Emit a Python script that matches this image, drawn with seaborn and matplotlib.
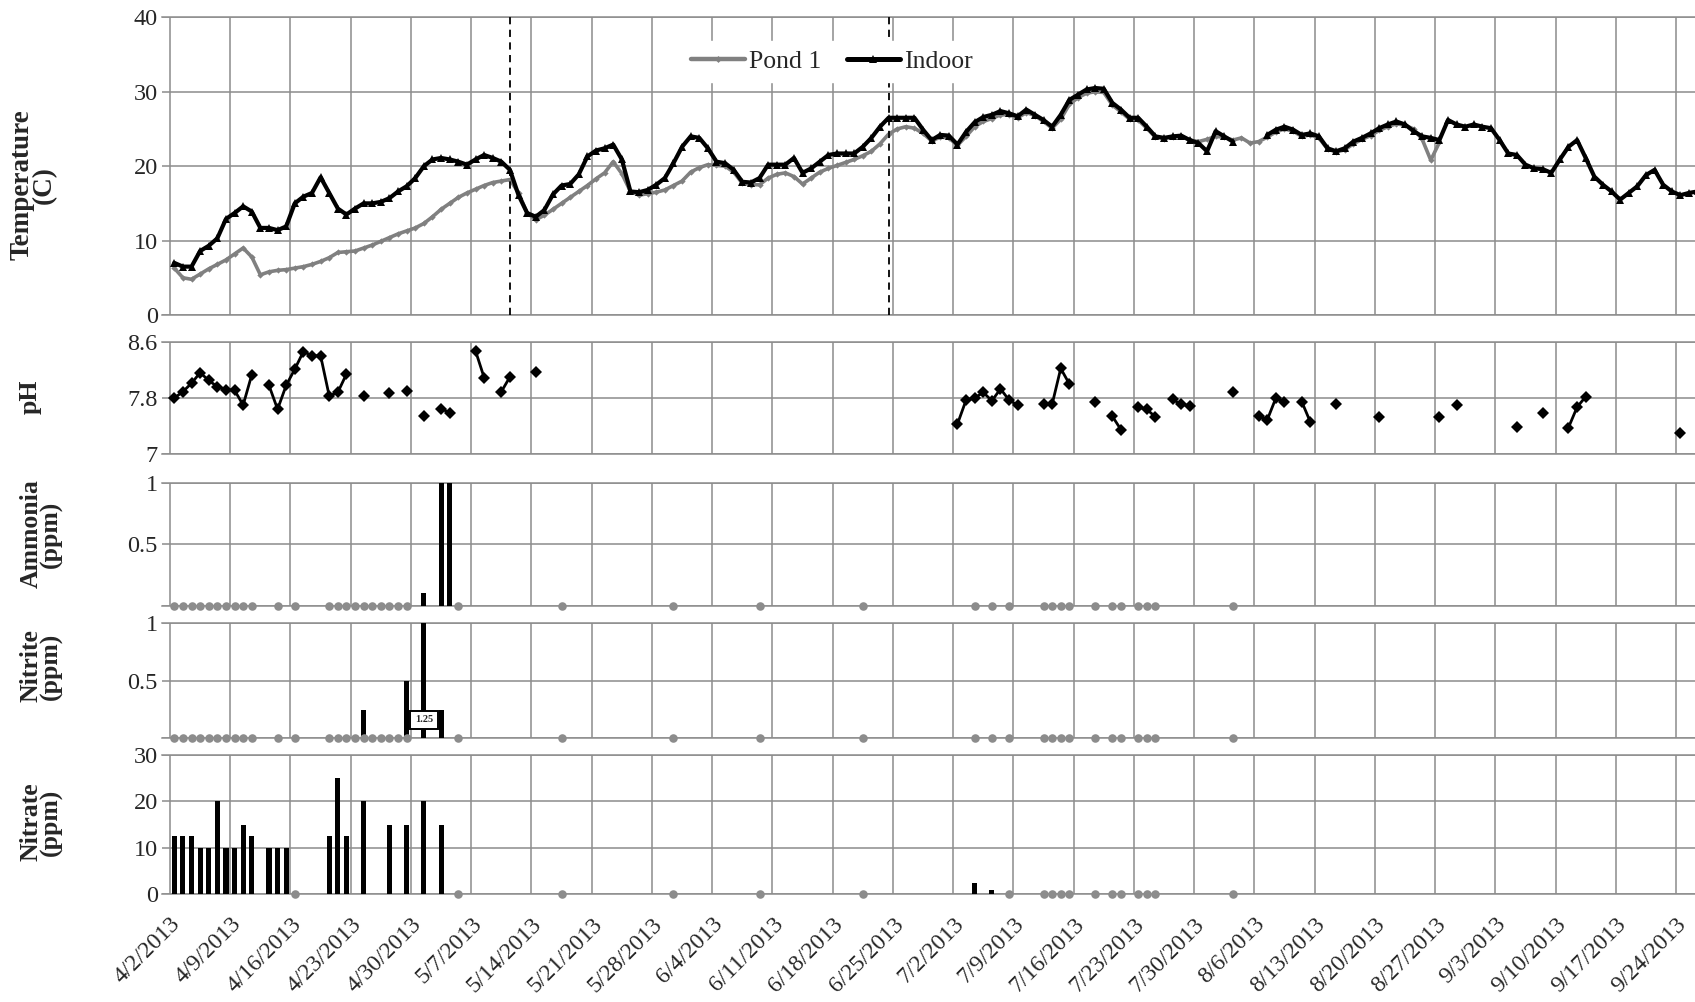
import numpy as np
import pandas as pd
import matplotlib
matplotlib.use("Agg")
import matplotlib.pyplot as plt
import matplotlib.dates as mdates
from matplotlib.lines import Line2D
from matplotlib.ticker import FixedLocator, FuncFormatter
import seaborn as sns

# ---------------------------------------------------------------- data
start_date = "2013-04-02"
last_tick_date = "2013-09-24"
event_days = [39, 83]                       # dashed markers (5/11, 6/24)

# daily water temperature (C), day 0 = 4/2/2013
indoor_temp = [
    7.0, 6.5, 6.5, 8.6, 9.3, 10.3, 12.9, 13.7, 14.6, 13.9,
    11.7, 11.7, 11.4, 11.9, 15.0, 15.9, 16.4, 18.5, 16.4, 14.3,
    13.5, 14.3, 15.0, 15.0, 15.2, 15.7, 16.6, 17.3, 18.4, 20.0,
    20.9, 21.1, 20.9, 20.6, 20.2, 20.9, 21.5, 21.1, 20.6, 19.5,
    16.1, 13.7, 13.2, 14.1, 16.2, 17.4, 17.6, 18.9, 21.3, 22.1,
    22.4, 22.9, 20.9, 16.6, 16.5, 16.8, 17.5, 18.4, 20.4, 22.6,
    24.0, 23.8, 22.4, 20.6, 20.4, 19.5, 17.9, 17.8, 18.4, 20.2,
    20.2, 20.2, 21.1, 19.1, 19.7, 20.6, 21.5, 21.7, 21.7, 21.7,
    22.6, 23.8, 25.3, 26.5, 26.5, 26.5, 26.5, 24.9, 23.5, 24.2,
    24.1, 22.9, 24.6, 25.9, 26.6, 26.9, 27.4, 27.1, 26.7, 27.6,
    26.9, 26.2, 25.3, 26.9, 28.9, 29.6, 30.3, 30.5, 30.4, 28.5,
    27.6, 26.5, 26.5, 25.3, 24.0, 23.8, 24.0, 24.1, 23.5, 23.1,
    22.0, 24.7, 24.0, 23.3, np.nan, np.nan, np.nan, 24.2, 24.9, 25.3,
    24.9, 24.2, 24.4, 24.0, 22.4, 22.0, 22.4, 23.3, 23.8, 24.4,
    25.1, 25.6, 26.0, 25.6, 24.7, 24.0, 23.8, 23.5, 26.2, 25.6,
    25.3, 25.6, 25.3, 25.1, 23.5, 21.7, 21.5, 20.2, 19.7, 19.6,
    19.1, 20.9, 22.6, 23.5, 21.1, 18.6, 17.5, 16.6, 15.5, 16.4,
    17.3, 18.8, 19.5, 17.5, 16.6, 16.1, 16.4, 16.6,
]
pond1_temp = [
    6.3, 5.0, 4.8, 5.5, 6.2, 6.8, 7.4, 8.2, 9.0, 7.8,
    5.4, 5.8, 6.0, 6.1, 6.3, 6.5, 6.8, 7.2, 7.7, 8.4,
    8.5, 8.6, 9.0, 9.4, 9.9, 10.4, 10.9, 11.3, 11.7, 12.3,
    13.2, 14.2, 15.0, 15.8, 16.4, 16.9, 17.4, 17.8, 18.0, 18.2,
    16.4, 13.7, 12.8, 13.4, 14.2, 15.0, 15.8, 16.6, 17.4, 18.3,
    19.1, 20.6, 19.0, 16.6, 16.1, 16.3, 16.5, 16.8, 17.4, 18.0,
    19.2, 19.8, 20.2, 20.1, 20.0, 19.2, 17.7, 17.5, 17.5, 18.4,
    18.9, 19.1, 18.6, 17.6, 18.4, 19.2, 19.7, 20.1, 20.5, 20.9,
    21.4, 22.0, 23.0, 24.3, 25.0, 25.3, 25.1, 24.4, 23.4, 23.9,
    23.8, 22.8, 24.0, 25.3, 26.0, 26.4, 26.9, 26.9, 26.5, 27.2,
    26.8, 26.0, 25.1, 26.3, 28.3, 29.2, 29.8, 30.0, 29.9, 28.2,
    27.3, 26.3, 26.2, 25.1, 23.9, 23.7, 23.9, 24.0, 23.5, 23.3,
    23.6, 24.0, 23.9, 23.5, 23.8, 23.1, 23.3, 23.9, 24.6, 25.0,
    24.7, 24.0, 24.2, 23.8, 22.3, 21.9, 22.2, 23.0, 23.6, 24.1,
    24.8, 25.3, 25.7, 25.5, 25.0, 23.6, 20.8, 23.2,
]

# pH readings (day index, value)
ph_days = [0, 1, 2, 3, 4, 5, 6, 7, 8, 9,
           11, 12, 13, 14, 15, 16, 17, 18, 19, 20,
           22, 25, 27, 29, 31, 32, 35, 36, 38, 39, 42,
           91, 92, 93, 94, 95, 96, 97, 98,
           101, 102, 103, 104, 107, 109, 110, 112, 113, 114,
           116, 117, 118, 123, 126, 127, 128, 129, 131, 132,
           135, 140, 147, 149, 156, 159, 162, 163, 164, 175]
ph_values = [7.80, 7.89, 8.01, 8.16, 8.05, 7.96, 7.92, 7.91, 7.70, 8.13,
             7.98, 7.64, 7.98, 8.21, 8.46, 8.40, 8.40, 7.83, 7.88, 8.14,
             7.83, 7.87, 7.90, 7.54, 7.65, 7.59, 8.47, 8.09, 7.89, 8.10, 8.17,
             7.43, 7.77, 7.80, 7.88, 7.76, 7.93, 7.77, 7.70,
             7.71, 7.71, 8.22, 8.00, 7.75, 7.54, 7.35, 7.67, 7.64, 7.53,
             7.78, 7.71, 7.69, 7.89, 7.54, 7.49, 7.80, 7.75, 7.75, 7.46,
             7.71, 7.53, 7.53, 7.70, 7.39, 7.58, 7.38, 7.67, 7.82, 7.30]

# days on which the pond samples read zero (grey dots)
zero_days_an = [0, 1, 2, 3, 4, 5, 6, 7, 8, 9, 12, 14,
                18, 19, 20, 21, 22, 23, 24, 25, 26, 27, 33,
                45, 58, 68, 80, 93, 95, 97, 101, 102, 103, 104,
                107, 109, 110, 112, 113, 114, 123]
zero_days_nitrate = [14, 33, 45, 58, 68, 80, 97, 101, 102, 103, 104,
                     107, 109, 110, 112, 113, 114, 123]

# measured concentrations (ppm)
ammonia_days = [29, 31, 32]
ammonia_ppm = [0.1, 1.5, 1.5]
nitrite_days = [22, 27, 29, 31]
nitrite_ppm = [0.25, 0.5, 1.25, 0.25]
nitrate_days = [0, 1, 2, 3, 4, 5, 6, 7, 8, 9, 11, 12, 13,
                18, 19, 20, 22, 25, 27, 29, 31, 93, 95]
nitrate_ppm = [12.5, 12.5, 12.5, 10, 10, 20, 10, 10, 15, 12.5, 10, 10, 10,
               12.5, 25, 12.5, 20, 15, 15, 20, 15, 2.5, 1]

# ---------------------------------------------------------------- helpers
t0 = pd.Timestamp(start_date)
noon = pd.Timedelta(hours=12)


def to_date(days):
    return t0 + pd.to_timedelta(np.asarray(days, dtype=float), unit="D") + noon


def runs(days, values):
    df = pd.DataFrame({"day": np.asarray(days, float), "value": values}).dropna()
    df["seg"] = (df["day"].diff() != 1).cumsum()
    df["date"] = to_date(df["day"].values)
    return df


# ---------------------------------------------------------------- style
sns.set_style("white")
plt.rcParams["font.family"] = ["Liberation Serif", "DejaVu Serif"]

GRID = "#8c8c8c"
POND = "#808080"
TICK_FS = 17.5
LABEL_FS = 18.5

W, H = 1695, 1002
fig = plt.figure(figsize=(W / 100, H / 100), dpi=100)


def frame(top, bottom, left=162, right=1695):
    return [left / W, 1 - bottom / H, (right - left) / W, (bottom - top) / H]


ax_t = fig.add_axes(frame(17.3, 315))
ax_p = fig.add_axes(frame(341.7, 454.3), sharex=ax_t)
ax_a = fig.add_axes(frame(482.7, 605.7), sharex=ax_t)
ax_n = fig.add_axes(frame(623.3, 738.3), sharex=ax_t)
ax_r = fig.add_axes(frame(755, 894.3), sharex=ax_t)
axes = [ax_t, ax_p, ax_a, ax_n, ax_r]

# ---------------------------------------------------------------- temperature
pond_df = runs(np.arange(len(pond1_temp)), pond1_temp)
indoor_df = runs(np.arange(len(indoor_temp)), indoor_temp)

sns.lineplot(data=pond_df, x="date", y="value", units="seg", estimator=None,
             color=POND, lw=2.6, marker="D", markersize=3.2,
             markeredgewidth=0, legend=False, ax=ax_t, zorder=3)
sns.lineplot(data=indoor_df, x="date", y="value", units="seg", estimator=None,
             color="black", lw=3.0, marker="^", markersize=5.5,
             markeredgewidth=0, legend=False, ax=ax_t, zorder=4)

for d in to_date(event_days):
    ax_t.axvline(d, color="black", lw=1.3, ls=(0, (4, 3)), zorder=5)

handles = [
    Line2D([], [], color=POND, lw=3.2, marker="D", markersize=3.5, markeredgewidth=0),
    Line2D([], [], color="black", lw=3.6, marker="^", markersize=5.5, markeredgewidth=0),
]
leg = ax_t.legend(handles, ["Pond 1", "Indoor"], loc="center",
                  bbox_to_anchor=(0.437, 0.853), ncol=2, frameon=True,
                  fontsize=LABEL_FS, handlelength=2.1, handletextpad=0.15,
                  columnspacing=1.0, borderpad=0.35, fancybox=False)
leg.get_frame().set_edgecolor("white")
leg.get_frame().set_facecolor("white")
leg.get_frame().set_alpha(1)

ax_t.set_ylim(0, 40)
ax_t.set_yticks([0, 10, 20, 30, 40])

# ---------------------------------------------------------------- pH
ph_df = runs(ph_days, ph_values)
sns.lineplot(data=ph_df, x="date", y="value", units="seg", estimator=None,
             color="black", lw=2.0, marker="D", markersize=6,
             markeredgewidth=0, legend=False, ax=ax_p, zorder=3)
ax_p.set_ylim(7, 8.6)
ax_p.set_yticks([7, 7.8, 8.6])
ax_p.set_yticklabels(["7", "7.8", "8.6"])


# ---------------------------------------------------------------- nutrients
def zero_dots(ax, days):
    sns.scatterplot(x=to_date(days), y=np.zeros(len(days)), color=GRID,
                    s=38, marker="o", linewidth=0, legend=False, ax=ax,
                    clip_on=False, zorder=4)


def conc_bars(ax, days, vals):
    ax.bar(to_date(days), vals, width=0.6, color="black", lw=0, zorder=3)


zero_dots(ax_a, zero_days_an)
conc_bars(ax_a, ammonia_days, ammonia_ppm)
ax_a.set_ylim(0, 1)
ax_a.set_yticks([0, 0.5, 1])
ax_a.set_yticklabels(["", "0.5", "1"])

zero_dots(ax_n, zero_days_an)
conc_bars(ax_n, nitrite_days, nitrite_ppm)
ax_n.set_ylim(0, 1)
ax_n.set_yticks([0, 0.5, 1])
ax_n.set_yticklabels(["", "0.5", "1"])
# value of the bar that runs past the top of the scale
for d, v in zip(nitrite_days, nitrite_ppm):
    if v > 1:
        ax_n.text(to_date([d])[0], 0.16, f"{v:g}", ha="center", va="center",
                  fontsize=7.5, fontweight="bold", zorder=6,
                  bbox=dict(boxstyle="square,pad=0.45", fc="white",
                            ec="black", lw=1.4))

zero_dots(ax_r, zero_days_nitrate)
conc_bars(ax_r, nitrate_days, nitrate_ppm)
ax_r.set_ylim(0, 30)
ax_r.set_yticks([0, 10, 20, 30])

# ---------------------------------------------------------------- axes cosmetics
tick_dates = pd.date_range(start_date, last_tick_date, freq="7D")
x_lo = t0 - pd.Timedelta(days=0.93)
x_hi = t0 + pd.Timedelta(days=177.2)

# (text, centre x px, centre y px, size)
labels = [("Temperature\n(C)", 33.5, 185, 19.5),
          ("pH", 30, 397, LABEL_FS),
          ("Ammonia\n(ppm)", 41.5, 534, LABEL_FS),
          ("Nitrite\n(ppm)", 41.5, 666, LABEL_FS),
          ("Nitrate\n(ppm)", 41.5, 822, LABEL_FS)]

for ax, (txt, lx, ly, fs) in zip(axes, labels):
    ax.set_xlim(x_lo, x_hi)
    ax.xaxis.set_major_locator(FixedLocator(mdates.date2num(tick_dates)))
    ax.set_axisbelow(True)
    ax.grid(True, color=GRID, lw=1.1)
    for s in ("left", "right"):
        ax.spines[s].set_visible(False)
    for s in ("top", "bottom"):
        ax.spines[s].set_color(GRID)
        ax.spines[s].set_linewidth(1.1)
    ax.tick_params(axis="y", length=0, pad=3, labelsize=TICK_FS)
    ax.tick_params(axis="x", length=0, labelbottom=False)
    ax.set_xlabel("")
    ax.set_ylabel("")
    fig.text(lx / W, 1 - ly / H, txt, rotation=90, ha="center", va="center",
             multialignment="center", fontsize=fs, fontweight="bold",
             linespacing=0.85)

ax_r.tick_params(axis="x", length=7, width=1.1, color=GRID, direction="out",
                 labelbottom=True, labelsize=17, pad=7)
ax_r.xaxis.set_major_formatter(FuncFormatter(
    lambda v, pos: (lambda d: f"{d.month}/{d.day}/{d.year}")(mdates.num2date(v))))
for lab in ax_r.get_xticklabels():
    lab.set_rotation(45)
    lab.set_ha("right")
    lab.set_rotation_mode("anchor")

fig.savefig("out.png", dpi=100)
